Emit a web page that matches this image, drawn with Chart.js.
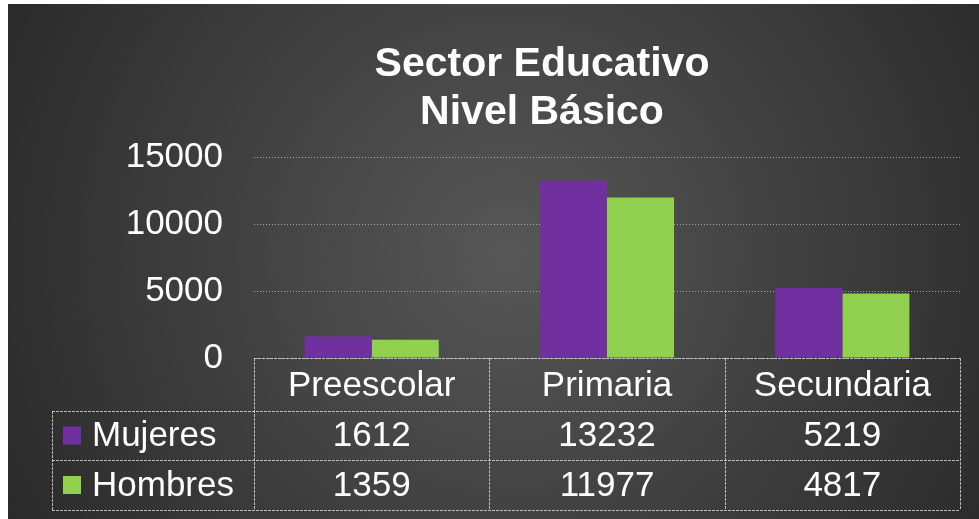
<!DOCTYPE html>
<html>
<head>
<meta charset="utf-8">
<script src="https://cdn.jsdelivr.net/npm/chart.js@4"></script>
<style>
  body { margin: 0; background: #fff; }
  #wrap { position: absolute; left: 8px; top: 4px; width: 971px; height: 515px; }
</style>
</head>
<body>
<div id="wrap"><canvas id="grafica" width="971" height="515"></canvas></div>
<script>
// datos de la grafica
var categorias = ['Preescolar', 'Primaria', 'Secundaria'];
var mujeres = [1612, 13232, 5219];
var hombres = [1359, 11977, 4817];
var series = ['Mujeres', 'Hombres'];
var colores = ['#7030A0', '#92D050'];
var titulo = ['Sector Educativo', 'Nivel Básico'];
var marcasY = [0, 5000, 10000, 15000];

var fuente = '"Liberation Sans", Arial, sans-serif';

// fondo degradado
var fondo = {
    id: 'fondo',
    beforeDraw: function (chart) {
        var c = chart.ctx;
        var g = c.createRadialGradient(500, 250, 0, 500, 250, 600);
        g.addColorStop(0, '#575757');
        g.addColorStop(1, '#272727');
        c.save();
        c.fillStyle = g;
        c.fillRect(0, 0, chart.width, chart.height);
        c.restore();
    }
};

// titulo y tabla de datos debajo del eje
var tabla = {
    id: 'tabla',
    afterDraw: function (chart) {
        var c = chart.ctx;
        var x = chart.scales.x;
        var area = chart.chartArea;
        var ancho = (area.right - area.left) / categorias.length;
        var y0 = area.bottom, y1 = 407, y2 = 456, y3 = 506;
        var izq = 44;

        c.save();
        c.fillStyle = '#fff';
        c.textAlign = 'center';
        c.textBaseline = 'alphabetic';
        c.font = 'bold 41px ' + fuente;
        c.fillText(titulo[0], 534, 72);
        c.fillText(titulo[1], 534, 120);

        // lineas
        c.strokeStyle = 'rgba(210,210,210,0.85)';
        c.lineWidth = 1;
        c.setLineDash([3, 1]);
        c.beginPath();
        c.moveTo(area.left, y0 + 0.5); c.lineTo(area.right, y0 + 0.5);
        [y1, y2, y3].forEach(function (yy) {
            c.moveTo(izq, yy + 0.5); c.lineTo(area.right, yy + 0.5);
        });
        c.moveTo(izq + 0.5, y1); c.lineTo(izq + 0.5, y3);
        for (var i = 0; i <= categorias.length; i++) {
            var xx = Math.round(area.left + i * ancho) + 0.5;
            c.moveTo(xx, y0); c.lineTo(xx, y3);
        }
        c.stroke();
        c.setLineDash([]);

        // textos
        c.font = '35px ' + fuente;
        c.textBaseline = 'middle';
        var filas = [mujeres, hombres];
        categorias.forEach(function (cat, i) {
            var cx = x.getPixelForValue(i);
            c.textAlign = 'center';
            c.fillText(cat, cx, (y0 + y1) / 2 + 2);
            c.fillText(String(filas[0][i]), cx, (y1 + y2) / 2 + 1);
            c.fillText(String(filas[1][i]), cx, (y2 + y3) / 2 + 1);
        });
        var centros = [(y1 + y2) / 2, (y2 + y3) / 2];
        series.forEach(function (s, k) {
            c.fillStyle = colores[k];
            c.fillRect(55, centros[k] - 9, 18, 18);
            c.fillStyle = '#fff';
            c.textAlign = 'left';
            c.fillText(s, 84, centros[k] + 1);
        });
        c.restore();
    }
};

new Chart(document.getElementById('grafica'), {
    type: 'bar',
    data: {
        labels: categorias,
        datasets: [
            { label: series[0], data: mujeres, backgroundColor: colores[0] },
            { label: series[1], data: hombres, backgroundColor: colores[1] }
        ]
    },
    options: {
        responsive: false,
        animation: false,
        layout: { padding: { left: 0, right: 19, top: 153, bottom: 161 } },
        datasets: { bar: { categoryPercentage: 0.57, barPercentage: 1 } },
        plugins: {
            legend: { display: false },
            title: { display: false },
            tooltip: { enabled: false }
        },
        scales: {
            x: { display: false },
            y: {
                min: 0,
                max: 15000,
                afterFit: function (s) { s.width = 246; },
                afterBuildTicks: function (s) {
                    s.ticks = marcasY.map(function (v) { return { value: v }; });
                },
                border: { display: false, dash: [1, 2] },
                grid: {
                    color: 'rgba(200,200,200,0.75)',
                    drawTicks: false
                },
                ticks: {
                    color: '#fff',
                    padding: 31,
                    font: { family: fuente, size: 35 },
                    callback: function (v) { return String(v); }
                }
            }
        }
    },
    plugins: [fondo, tabla]
});
</script>
</body>
</html>
